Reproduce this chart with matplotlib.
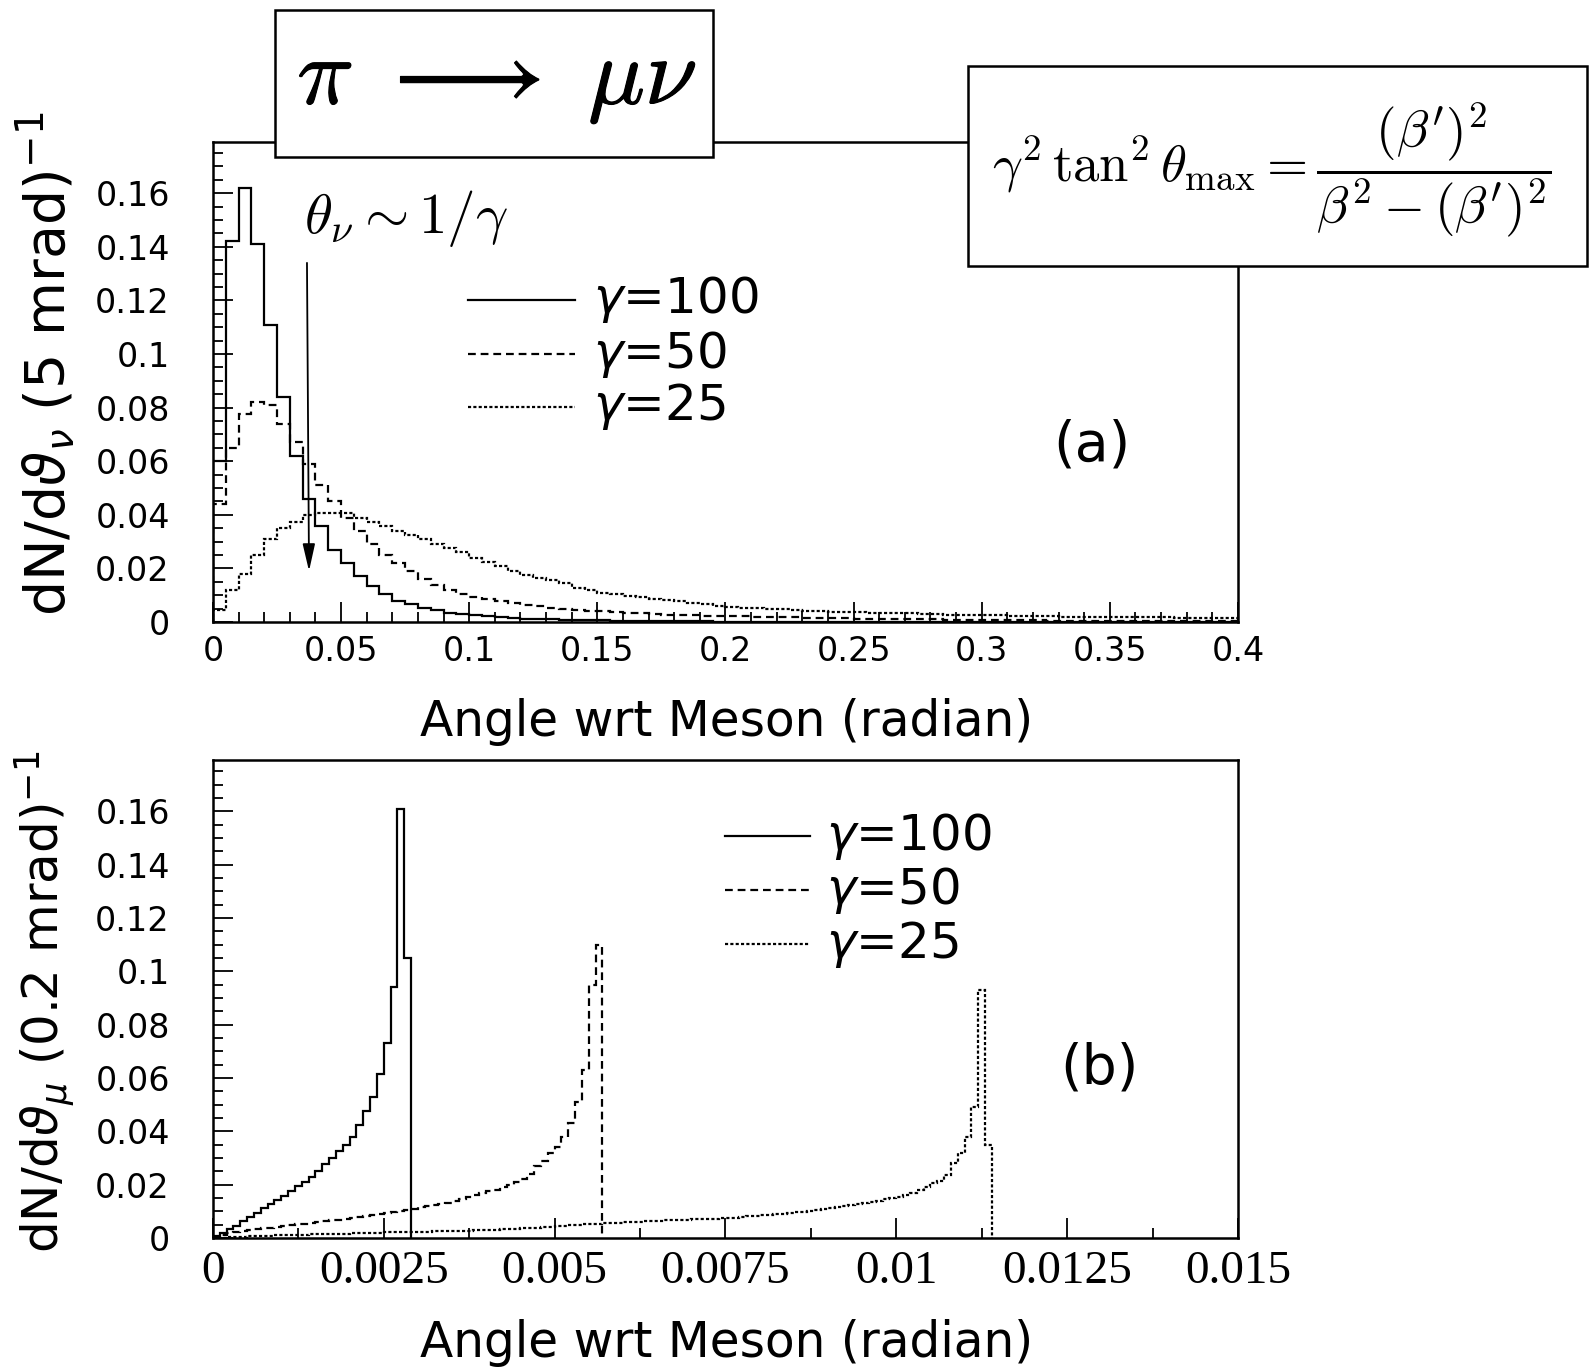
import matplotlib
matplotlib.use("Agg")
import matplotlib.pyplot as plt
import matplotlib.patheffects as pe
import numpy as np
from matplotlib.patches import Rectangle
from matplotlib.ticker import MultipleLocator

plt.rcParams["font.family"] = "DejaVu Sans"
plt.rcParams["mathtext.fontset"] = "dejavusans"

gammas = ["100", "50", "25"]

# (a) neutrino angle wrt meson, 5 mrad bins
nu_bin = 0.005
nu_g100 = [0.060, 0.142, 0.162, 0.141, 0.111, 0.084, 0.062, 0.046, 0.036, 0.027,
           0.022, 0.017, 0.0134, 0.0106, 0.0080, 0.0069, 0.0054, 0.0044, 0.0034, 0.0030,
           0.0025, 0.0022, 0.0018, 0.0015, 0.0012, 0.0011, 0.0010, 0.0009, 0.0008, 0.0007,
           0.0006, 0.0005, 0.0004, 0.0004, 0.0003, 0.0003, 0.0002, 0.0002, 0.0002, 0.0001,
           0.0001, 0.0001, 0.0001, 0.0001, 0.0001, 0.0001, 0.0001, 0.0001, 0.0001, 0.0001,
           0, 0, 0, 0, 0, 0, 0, 0, 0, 0,
           0, 0, 0, 0, 0, 0, 0, 0, 0, 0,
           0, 0, 0, 0, 0, 0, 0, 0, 0, 0]
nu_g50 = [0.044, 0.065, 0.0775, 0.082, 0.081, 0.074, 0.067, 0.059, 0.051, 0.045,
          0.039, 0.034, 0.029, 0.025, 0.022, 0.019, 0.016, 0.014, 0.012, 0.0106,
          0.0095, 0.0086, 0.0078, 0.0071, 0.0064, 0.0058, 0.0053, 0.0049, 0.0046, 0.0043,
          0.0040, 0.0037, 0.0034, 0.0032, 0.0030, 0.0028, 0.0027, 0.0025, 0.0024, 0.0023,
          0.0022, 0.0021, 0.0020, 0.0019, 0.0018, 0.0017, 0.0016, 0.0015, 0.0015, 0.0014,
          0.0013, 0.0013, 0.0012, 0.0011, 0.0011, 0.0010, 0.0010, 0.0009, 0.0009, 0.0008,
          0.0008, 0.0007, 0.0007, 0.0006, 0.0006, 0.0005, 0.0005, 0.0005, 0.0004, 0.0004,
          0.0004, 0.0003, 0.0003, 0.0003, 0.0003, 0.0002, 0.0002, 0.0002, 0.0002, 0.0002]
nu_g25 = [0.0044, 0.012, 0.018, 0.025, 0.031, 0.035, 0.0375, 0.040, 0.0406, 0.0406,
          0.0406, 0.039, 0.0375, 0.036, 0.034, 0.0325, 0.031, 0.029, 0.0275, 0.026,
          0.024, 0.0225, 0.021, 0.019, 0.0175, 0.0165, 0.0155, 0.0145, 0.0128, 0.012,
          0.011, 0.0104, 0.0098, 0.0092, 0.0087, 0.0082, 0.0077, 0.0071, 0.0066, 0.0061,
          0.0057, 0.0054, 0.0051, 0.0049, 0.0047, 0.0045, 0.0043, 0.0041, 0.0039, 0.0037,
          0.0036, 0.0035, 0.0034, 0.0033, 0.0032, 0.0031, 0.0029, 0.0028, 0.0027, 0.0026,
          0.0026, 0.0025, 0.0024, 0.0023, 0.0022, 0.0021, 0.0020, 0.0020, 0.0019, 0.0019,
          0.0018, 0.0018, 0.0017, 0.0017, 0.0017, 0.0016, 0.0016, 0.0016, 0.0015, 0.0015]

# (b) muon angle wrt meson
mu_bin = 0.0001
mu_g100 = [0.0009, 0.0020, 0.0034, 0.0046, 0.0063, 0.0078, 0.0094, 0.0113, 0.0129, 0.0144,
           0.0159, 0.0178, 0.0194, 0.021, 0.0229, 0.025, 0.0278, 0.030, 0.0325, 0.035,
           0.038, 0.0425, 0.0475, 0.053, 0.0615, 0.073, 0.094, 0.161, 0.105]
mu_g50 = [0.0005, 0.0012, 0.0018, 0.0024, 0.0027, 0.0030, 0.0033, 0.0036, 0.0039, 0.0042,
          0.0045, 0.0048, 0.0051, 0.0054, 0.0057, 0.0060, 0.0063, 0.0066, 0.0069, 0.0072,
          0.0076, 0.0079, 0.0083, 0.0087, 0.0090, 0.0093, 0.0096, 0.0100, 0.0105, 0.0110,
          0.0115, 0.0120, 0.0124, 0.0128, 0.0133, 0.0140, 0.0147, 0.0153, 0.0160, 0.0168,
          0.0175, 0.018, 0.019, 0.020, 0.021, 0.022, 0.024, 0.027, 0.029, 0.032,
          0.034, 0.038, 0.043, 0.051, 0.063, 0.095, 0.110]
mu_g25 = [0.0001, 0.0002, 0.0003, 0.0004, 0.0005, 0.0006, 0.0007, 0.0008, 0.0009, 0.0010,
          0.0011, 0.0012, 0.0012, 0.0013, 0.0014, 0.0014, 0.0015, 0.0016, 0.0016, 0.0017,
          0.0018, 0.0018, 0.0019, 0.0020, 0.0020, 0.0021, 0.0022, 0.0022, 0.0023, 0.0023,
          0.0024, 0.0024, 0.0025, 0.0025, 0.0026, 0.0026, 0.0027, 0.0028, 0.0029, 0.0030,
          0.0031, 0.0032, 0.0033, 0.0034, 0.0035, 0.0036, 0.0038, 0.0039, 0.0041, 0.0043,
          0.0045, 0.0046, 0.0048, 0.0050, 0.0051, 0.0052, 0.0054, 0.0055, 0.0057, 0.0058,
          0.0060, 0.0061, 0.0062, 0.0063, 0.0064, 0.0065, 0.0066, 0.0067, 0.0068, 0.0069,
          0.0070, 0.0071, 0.0072, 0.0073, 0.0074, 0.0075, 0.0077, 0.0079, 0.0081, 0.0083,
          0.0085, 0.0087, 0.0089, 0.0091, 0.0093, 0.0096, 0.0099, 0.0102, 0.0105, 0.0108,
          0.0112, 0.0116, 0.0120, 0.0124, 0.0128, 0.0132, 0.0136, 0.0140, 0.0145, 0.0150,
          0.0155, 0.0160, 0.0170, 0.0180, 0.0190, 0.0205, 0.0215, 0.0236, 0.0280, 0.0320,
          0.0380, 0.0490, 0.0930, 0.0350]

yticks = [0, 0.02, 0.04, 0.06, 0.08, 0.1, 0.12, 0.14, 0.16]
ytick_labels = ["0", "0.02", "0.04", "0.06", "0.08", "0.1", "0.12", "0.14", "0.16"]
nu_xticks = [0, 0.05, 0.1, 0.15, 0.2, 0.25, 0.3, 0.35, 0.4]
nu_xtick_labels = ["0", "0.05", "0.1", "0.15", "0.2", "0.25", "0.3", "0.35", "0.4"]
mu_xticks = [0, 0.0025, 0.005, 0.0075, 0.01, 0.0125, 0.015]
mu_xtick_labels = ["0", "0.0025", "0.005", "0.0075", "0.01", "0.0125", "0.015"]

styles = {"100": "-", "50": (0, (3.5, 2.2)), "25": (0, (1.4, 1.0))}
LW = 1.6


def draw_hist(ax, vals, width, style):
    edges = np.arange(len(vals) + 1) * width
    ax.stairs(vals, edges, baseline=0, color="black", lw=LW, linestyle=style)


def frame(ax, ymax):
    for sp in ax.spines.values():
        sp.set_linewidth(1.8)
    ax.set_ylim(0, ymax)
    ax.set_yticks(yticks, ytick_labels, fontsize=24)
    ax.yaxis.set_minor_locator(MultipleLocator(0.005))
    ax.tick_params(which="both", direction="in", top=False, right=False, width=1.3)
    ax.tick_params(which="major", length=14.5)
    ax.tick_params(which="minor", length=7)
    ax.tick_params(axis="y", pad=31)
    ax.tick_params(axis="x", pad=9)


def legend(ax, x0, x1, xt, ys):
    for g, y in zip(gammas, ys):
        ax.plot([x0, x1], [y, y], transform=ax.transAxes, color="black",
                lw=LW, linestyle=styles[g])
        ax.text(xt, y, r"$\gamma$=" + g, transform=ax.transAxes,
                va="center", ha="left", fontsize=36)


def main():
    fig = plt.figure(figsize=(15.89, 13.68), dpi=100)
    ax1 = fig.add_axes([0.1340, 0.5453, 0.6451, 0.3509])
    ax2 = fig.add_axes([0.1340, 0.0950, 0.6451, 0.3494])

    # (a)
    for g, vals in zip(gammas, [nu_g100, nu_g50, nu_g25]):
        draw_hist(ax1, vals, nu_bin, styles[g])
    frame(ax1, 0.1791)
    ax1.set_xlim(0, 0.4)
    ax1.set_xticks(nu_xticks, nu_xtick_labels, fontsize=24)
    ax1.xaxis.set_minor_locator(MultipleLocator(0.01))
    legend(ax1, 0.249, 0.353, 0.371, [0.671, 0.558, 0.448])
    ax1.annotate("", xy=(0.0375, 0.019), xytext=(0.0367, 0.134),
                 arrowprops=dict(arrowstyle="-|>,head_length=1.1,head_width=0.25",
                                 color="black", lw=1.3, mutation_scale=15,
                                 shrinkA=0, shrinkB=0))

    # (b)
    for g, vals in zip(gammas, [mu_g100, mu_g50, mu_g25]):
        draw_hist(ax2, vals, mu_bin, styles[g])
    frame(ax2, 0.1792)
    ax2.set_xlim(0, 0.015)
    ax2.set_xticks(mu_xticks, mu_xtick_labels, fontsize=34, fontfamily="Liberation Serif")
    ax2.xaxis.set_minor_locator(MultipleLocator(0.00125))
    legend(ax2, 0.4995, 0.5824, 0.598, [0.841, 0.728, 0.615])

    fig.text(0.687, 0.674, "(a)", fontsize=40, ha="center", va="center")
    fig.text(0.692, 0.2186, "(b)", fontsize=40, ha="center", va="center")
    fig.text(0.1913, 0.8406, r"$\theta_\nu \sim 1/\gamma$", fontsize=41,
             math_fontfamily="cm", ha="left", va="center")

    fig.text(0.457, 0.4722, "Angle wrt Meson (radian)", fontsize=35, ha="center", va="center")
    fig.text(0.457, 0.0183, "Angle wrt Meson (radian)", fontsize=35, ha="center", va="center")
    fig.text(0.0283, 0.734, r"dN/d$\vartheta_{\nu}$ (5 mrad)$^{-1}$", fontsize=40,
             rotation=90, ha="center", va="center")
    fig.text(0.0283, 0.268, r"dN/d$\vartheta_{\mu}$ (0.2 mrad)$^{-1}$", fontsize=36,
             rotation=90, ha="center", va="center")

    # boxes drawn over the frame
    fig.add_artist(Rectangle((0.1731, 0.8852), 0.2756, 0.1075, transform=fig.transFigure,
                             facecolor="white", edgecolor="black", lw=1.8, zorder=5))
    fig.text(0.3128, 0.9415, r"$\pi\ \longrightarrow\ \mu\nu$", fontsize=68,
             math_fontfamily="cm", ha="center", va="center", zorder=6,
             path_effects=[pe.withStroke(linewidth=0.8, foreground="black")])
    fig.add_artist(Rectangle((0.6092, 0.8056), 0.3895, 0.1462, transform=fig.transFigure,
                             facecolor="white", edgecolor="black", lw=1.8, zorder=5))
    fig.text(0.8005, 0.8757,
             r"$\gamma^2\,\tan^2\theta_{\mathrm{max}} = \dfrac{(\beta')^2}{\beta^2-(\beta')^2}$",
             fontsize=38, math_fontfamily="cm", ha="center", va="center", zorder=6)

    fig.savefig("out.png", dpi=100)


if __name__ == "__main__":
    main()
